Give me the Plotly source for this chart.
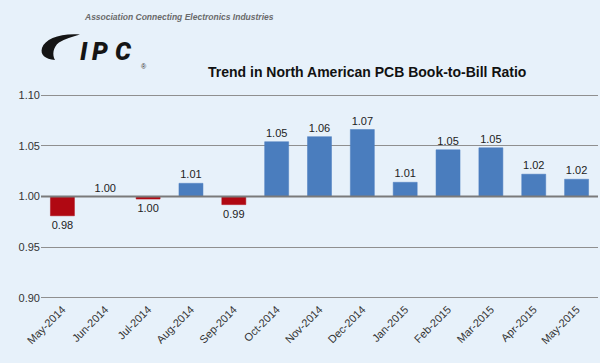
import plotly.graph_objects as go

months = ["May-2014", "Jun-2014", "Jul-2014", "Aug-2014", "Sep-2014", "Oct-2014",
          "Nov-2014", "Dec-2014", "Jan-2015", "Feb-2015", "Mar-2015", "Apr-2015", "May-2015"]
ratio = [0.981, 1.000, 0.9975, 1.013, 0.992, 1.054, 1.059, 1.066, 1.014, 1.046, 1.048, 1.022, 1.017]
baseline = 1.0
y_ticks = [0.90, 0.95, 1.00, 1.05, 1.10]

RED = "#B00812"
BLUE = "#4A7DBE"
BG = "#E7F1FA"

W, H = 600, 363
ML, MR, MT, MB = 41, 2, 93, 63
PW, PH = W - ML - MR, H - MT - MB


def px(x, y):
    return (x - ML) / PW, (H - MB - y) / PH


colors = [RED if v < baseline else BLUE for v in ratio]

fig = go.Figure()
fig.add_trace(go.Bar(
    x=months,
    y=[v - baseline for v in ratio],
    base=baseline,
    marker=dict(color=colors, line=dict(color=colors, width=0.5)),
    text=[f"{v:.2f}" for v in ratio],
    textposition="outside",
    textfont=dict(family="Liberation Sans, Arial", size=11, color="#222222"),
    cliponaxis=False,
    width=0.56,
    hoverinfo="skip",
))

# baseline line
fig.add_shape(type="line", xref="paper", yref="y", x0=0, x1=1, y0=baseline, y1=baseline,
              line=dict(color="#7a7a7a", width=2), layer="above")

# logo swoosh (decoration, pixel geometry)
segs = [
    ("M", [(80, 34.5)]),
    ("C", [(60, 33), (45, 39), (42, 48)]),
    ("C", [(40, 55), (45, 59), (55, 60)]),
    ("C", [(52, 55), (53, 47), (59, 42.5)]),
    ("C", [(65, 38.5), (72, 37), (80, 34.5)]),
]
path = ""
for cmd, ps in segs:
    path += cmd + " " + " ".join(f"{px(a, b)[0]:.5f},{px(a, b)[1]:.5f}" for a, b in ps) + " "
path += "Z"
fig.add_shape(type="path", xref="paper", yref="paper", path=path,
              fillcolor="#151515", line=dict(width=0), layer="above")

for letter, cx in [("I", 83.5), ("P", 100), ("C", 124)]:
    lx, ly = px(cx, 51)
    fig.add_annotation(xref="paper", yref="paper", x=lx, y=ly, xanchor="center", yanchor="middle",
                       text=letter, showarrow=False,
                       font=dict(family="Roboto, Inter, Lato, Liberation Sans", size=25,
                                 weight=900, style="italic", color="#151515"))
rx, ry = px(139, 66)
fig.add_annotation(xref="paper", yref="paper", x=rx, y=ry, xanchor="left", yanchor="middle",
                   text="®", showarrow=False,
                   font=dict(family="Liberation Sans, Arial", size=7, color="#333333"))
tx, ty = px(82, 17)
fig.add_annotation(xref="paper", yref="paper", x=tx, y=ty, xanchor="left", yanchor="middle",
                   text="<b><i>Association Connecting Electronics Industries</i></b>", showarrow=False,
                   font=dict(family="Liberation Sans, Arial", size=8.5, color="#6a6a6a"))
hx, hy = px(367, 72)
fig.add_annotation(xref="paper", yref="paper", x=hx, y=hy, xanchor="center", yanchor="middle",
                   text="<b>Trend in North American PCB Book-to-Bill Ratio</b>", showarrow=False,
                   font=dict(family="Liberation Sans, Arial", size=14, color="#111111"))

fig.update_layout(
    width=W, height=H,
    margin=dict(l=ML, r=MR, t=MT, b=MB, pad=0),
    paper_bgcolor=BG, plot_bgcolor=BG,
    showlegend=False,
    bargap=0.44,
    font=dict(family="Liberation Sans, Arial", size=11, color="#333333"),
)
fig.update_xaxes(tickangle=-45, showgrid=False, showline=False, ticks="",
                 tickfont=dict(size=11, color="#333333"), automargin=False)
fig.update_yaxes(range=[0.898, 1.102], tickvals=y_ticks, ticktext=[f"{t:.2f}" for t in y_ticks],
                 showgrid=True, gridcolor="#8f8f8f", gridwidth=1, zeroline=False,
                 showline=False, ticks="", tickfont=dict(size=11, color="#333333"), automargin=False)

fig.write_html("out.html", config={"displayModeBar": False},
               post_script="document.body.style.margin='0';document.body.style.background='#E7F1FA';")
